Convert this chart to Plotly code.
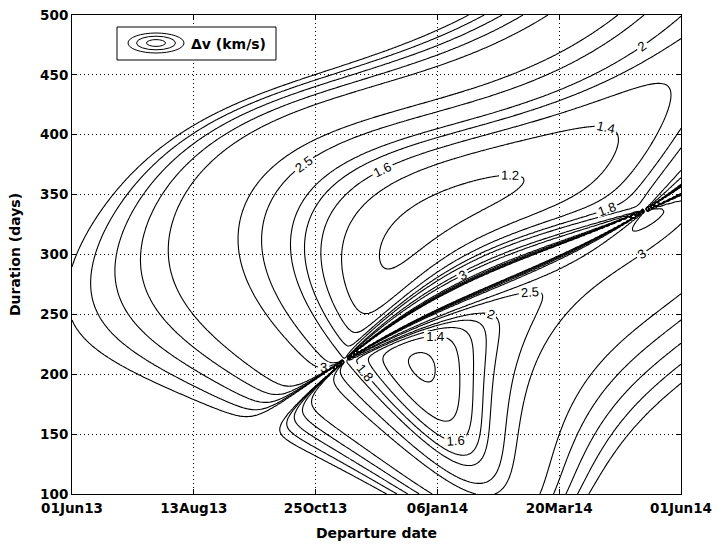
import numpy as np
import plotly.graph_objects as go

# ---- Grid: departure dates (days after 01 Jun 2013) and flight durations (days)
START_DATE = '2013-06-01'
START_JD = 2456444.5
dep_days = np.arange(0, 366, 1.0)
tof_days = np.arange(100, 502, 2.0)

# ---- Mean orbital elements (J2000 ecliptic): a [AU], e, I, L, long. perihelion, long. node [deg]
earth_el = [1.00000261, 0.01671123, -0.00001531, 100.46457166, 102.93768193, 0.0]
earth_rt = [0.00000562, -0.00004392, -0.01294668, 35999.37244981, 0.32327364, 0.0]
mars_el = [1.52371034, 0.09339410, 1.84969142, -4.55343205, -23.94362959, 49.55953891]
mars_rt = [0.00001847, 0.00007882, -0.00813131, 19140.30268499, 0.44441088, -0.29257343]

# ---- Departure from a geostationary transfer orbit (perigee / apogee radius, km)
MU_EARTH = 398600.4418
GTO_RP = 6578.0
GTO_RA = 42164.0

# ---- Contour levels of delta-v (km/s)
labelled_levels_fine = [1.2, 2.0, 0.2]      # start, end, step
labelled_levels_coarse = [2.5, 3.0, 0.5]
unlabelled_levels = [5.0, 9.0, 1.0]

# ---- Axis ticks
x_ticks = ['2013-06-01', '2013-08-13', '2013-10-25', '2014-01-06', '2014-03-20', '2014-06-01']
x_ticktext = ['01Jun13', '13Aug13', '25Oct13', '06Jan14', '20Mar14', '01Jun14']
y_ticks = [100, 150, 200, 250, 300, 350, 400, 450, 500]

MU_SUN = 0.01720209895 ** 2            # AU^3 / day^2
AUD_KMS = 1.495978707e8 / 86400.0      # AU/day -> km/s


def planet_pos(el, rt, jd):
    T = (jd - 2451545.0) / 36525.0
    a, e, I, L, vp, Om = [el[k] + rt[k] * T for k in range(6)]
    I, L, vp, Om = np.radians(I), np.radians(L), np.radians(vp), np.radians(Om)
    w = vp - Om
    M = np.mod(L - vp + np.pi, 2 * np.pi) - np.pi
    E = M + e * np.sin(M)
    for _ in range(12):
        E = E - (E - e * np.sin(E) - M) / (1 - e * np.cos(E))
    xp = a * (np.cos(E) - e)
    yp = a * np.sqrt(1 - e * e) * np.sin(E)
    cw, sw, cO, sO, ci, si = np.cos(w), np.sin(w), np.cos(Om), np.sin(Om), np.cos(I), np.sin(I)
    x = (cw * cO - sw * sO * ci) * xp + (-sw * cO - cw * sO * ci) * yp
    y = (cw * sO + sw * cO * ci) * xp + (-sw * sO + cw * cO * ci) * yp
    z = (sw * si) * xp + (cw * si) * yp
    return np.stack([x, y, z], axis=-1)


def planet_state(el, rt, jd):
    h = 0.01
    r = planet_pos(el, rt, jd)
    v = (planet_pos(el, rt, jd + h) - planet_pos(el, rt, jd - h)) / (2 * h)
    return r, v


def stumpff(z):
    zp = np.where(z > 1e-8, z, 1.0)
    zn = np.where(z < -1e-8, -z, 1.0)
    sp, sn = np.sqrt(zp), np.sqrt(zn)
    C = np.where(z > 1e-8, (1 - np.cos(sp)) / zp,
                 np.where(z < -1e-8, (np.cosh(sn) - 1) / zn, 0.5))
    S = np.where(z > 1e-8, (sp - np.sin(sp)) / sp ** 3,
                 np.where(z < -1e-8, (np.sinh(sn) - sn) / sn ** 3, 1.0 / 6.0))
    return C, S


def lambert(r1v, r2v, tof):
    """Prograde, zero-revolution Lambert solution (universal variables, bisection)."""
    r1 = np.linalg.norm(r1v, axis=-1)
    r2 = np.linalg.norm(r2v, axis=-1)
    cosd = np.clip(np.sum(r1v * r2v, axis=-1) / (r1 * r2), -1, 1)
    cz = r1v[..., 0] * r2v[..., 1] - r1v[..., 1] * r2v[..., 0]
    sgn = np.where(cz >= 0, 1.0, -1.0)
    A = sgn * np.sqrt(r1 * r2 * (1 + cosd))
    lo = np.full(A.shape, -4 * np.pi ** 2)
    hi = np.full(A.shape, 4 * np.pi ** 2 - 1e-6)
    for _ in range(70):
        z = 0.5 * (lo + hi)
        C, S = stumpff(z)
        y = r1 + r2 + A * (z * S - 1) / np.sqrt(C)
        ypos = np.maximum(y, 1e-12)
        x = np.sqrt(ypos / C)
        t = (x ** 3 * S + A * np.sqrt(ypos)) / np.sqrt(MU_SUN)
        small = (y < 0) | (t < tof)
        lo = np.where(small, z, lo)
        hi = np.where(small, hi, z)
    z = 0.5 * (lo + hi)
    C, S = stumpff(z)
    y = np.maximum(r1 + r2 + A * (z * S - 1) / np.sqrt(C), 1e-12)
    g = A * np.sqrt(y / MU_SUN)
    g = np.where(np.abs(g) < 1e-12, 1e-12, g)
    f = 1 - y / r1
    v1 = (r2v - f[..., None] * r1v) / g[..., None]
    return v1


DD, TT = np.meshgrid(dep_days, tof_days)
jd_dep = START_JD + DD
rE, vE = planet_state(earth_el, earth_rt, jd_dep)
rM, _ = planet_state(mars_el, mars_rt, jd_dep + TT)
v1 = lambert(rE, rM, TT)
vinf = np.linalg.norm(v1 - vE, axis=-1) * AUD_KMS

# Injection burn at GTO perigee
v_esc = np.sqrt(2 * MU_EARTH / GTO_RP)
v_gto = np.sqrt(MU_EARTH * (2 / GTO_RP - 2 / (GTO_RP + GTO_RA)))
delta_v = np.sqrt(vinf ** 2 + v_esc ** 2) - v_gto
delta_v = np.round(np.clip(delta_v, 0, 20), 4)

dates = (np.datetime64(START_DATE) + dep_days.astype('timedelta64[D]')).astype(str)

LINE = dict(color='black', width=1.1)
BLACK = [[0, 'black'], [1, 'black']]
LABEL_FONT = dict(family='Liberation Sans', size=13, color='black')


def contour_trace(levels, labels):
    return go.Contour(
        x=dates, y=tof_days, z=delta_v, showscale=False, hoverinfo='skip',
        colorscale=BLACK, line=LINE,
        contours=dict(coloring='lines', start=levels[0], end=levels[1], size=levels[2],
                      showlabels=labels, labelfont=LABEL_FONT),
    )


fig = go.Figure()
fig.add_trace(contour_trace(unlabelled_levels, False))
fig.add_trace(contour_trace(labelled_levels_coarse, True))
fig.add_trace(contour_trace(labelled_levels_fine, True))

AX_FONT = dict(family='DejaVu Sans', size=14, color='black', weight='bold')
TICK_FONT = dict(family='DejaVu Sans', size=13.5, color='black', weight='bold')

fig.update_layout(
    width=718, height=547, margin=dict(l=72, r=37, t=15, b=53),
    plot_bgcolor='white', paper_bgcolor='white', showlegend=False,
)
fig.update_xaxes(
    type='date', range=[x_ticks[0], x_ticks[-1]], tickvals=x_ticks, ticktext=x_ticktext,
    automargin=False, showline=True, linecolor='black', linewidth=1, mirror='allticks',
    ticks='inside', ticklen=5, tickcolor='black', tickfont=TICK_FONT, ticklabelstandoff=2,
    showgrid=True, gridcolor='black', gridwidth=1, griddash='1px,3px', zeroline=False,
    title=dict(text='Departure date', font=AX_FONT, standoff=12),
)
fig.update_yaxes(
    range=[100, 500], tickvals=y_ticks,
    automargin=False, showline=True, linecolor='black', linewidth=1, mirror='allticks',
    ticks='inside', ticklen=5, tickcolor='black', tickfont=TICK_FONT,
    showgrid=True, gridcolor='black', gridwidth=1, griddash='1px,3px', zeroline=False,
    title=dict(text='Duration (days)', font=AX_FONT, standoff=16),
)

# Legend box with a small contour glyph
PLOT_W, PLOT_H, PLOT_L, PLOT_B = 609.0, 479.0, 72.0, 494.0


def px(x):
    return (x - PLOT_L) / PLOT_W


def py(y):
    return (PLOT_B - y) / PLOT_H


shapes = [dict(type='rect', xref='paper', yref='paper', x0=px(117), x1=px(276), y0=py(60), y1=py(27),
               line=dict(color='black', width=1), fillcolor='white', layer='above')]
for rx, ry in [(28, 10), (19.5, 6.8), (9.5, 3.4)]:
    shapes.append(dict(type='circle', xref='paper', yref='paper',
                       x0=px(156 - rx), x1=px(156 + rx), y0=py(43 + ry), y1=py(43 - ry),
                       line=dict(color='black', width=1), layer='above'))
fig.update_layout(shapes=shapes, annotations=[
    dict(text='Δv (km/s)', xref='paper', yref='paper', x=px(189), y=py(44), xanchor='left',
         yanchor='middle', showarrow=False, font=dict(family='DejaVu Sans', size=14, color='black',
                                                      weight='bold'))])

fig.write_html("out.html")
